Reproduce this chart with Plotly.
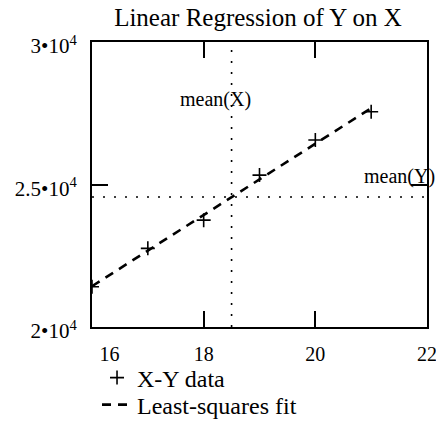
import numpy as np
import plotly.graph_objects as go

# Data
x_data = [16, 17, 18, 19, 20, 21]
y_data = [21410, 22760, 23750, 25330, 26560, 27550]
fit_y = [21430, 22680, 23930, 25180, 26430, 27680]

x_ticks = [16, 18, 20, 22]
x_tick_text = ["\u00a0\u00a0\u00a0\u00a0\u00a0\u00a0\u00a016", "18", "20", "22"]
y_ticks = [20000, 25000, 30000]
y_tick_text = ["2•10<sup>4</sup>", "2.5•10<sup>4</sup>", "3•10<sup>4</sup>"]

mean_x = float(np.mean(x_data))
mean_y = float(np.mean(y_data))

FONT = "Liberation Serif, Times New Roman, serif"

fig = go.Figure()
fig.add_trace(go.Scatter(
    x=x_data, y=y_data, mode="markers", name="X-Y data", legend="legend",
    marker=dict(symbol="cross-thin-open", size=10, color="black",
                line=dict(width=1.6, color="black")),
))
fig.add_trace(go.Scatter(
    x=x_data, y=fit_y, mode="lines", name="Least-squares fit", legend="legend2",
    line=dict(color="black", width=2.6, dash="9px,7px"),
))

fig.add_shape(type="line", xref="x", yref="paper", x0=mean_x, x1=mean_x, y0=0, y1=1,
              line=dict(color="black", width=1.6, dash="2px,9px"))
fig.add_shape(type="line", xref="paper", yref="y", x0=0, x1=1, y0=mean_y, y1=mean_y,
              line=dict(color="black", width=1.6, dash="2px,9px"))

fig.add_annotation(x=mean_x, xref="x", y=28000, yref="y", text="mean(X)",
                   showarrow=False, xshift=-16, font=dict(family=FONT, size=20, color="black"))
fig.add_annotation(x=22, xref="x", y=mean_y, yref="y", text="mean(Y)",
                   showarrow=False, xanchor="center", yshift=21, xshift=-28,
                   font=dict(family=FONT, size=20, color="black"))

leg_common = dict(xanchor="left", yanchor="middle", bgcolor="rgba(0,0,0,0)",
                  font=dict(family=FONT, size=24, color="black"), itemwidth=30)

fig.update_layout(
    width=436, height=424,
    margin=dict(l=92, r=9, t=42, b=97, autoexpand=False),
    paper_bgcolor="white", plot_bgcolor="white",
    font=dict(family=FONT, size=20, color="black"),
    title=dict(text="Linear Regression of Y on X", x=258 / 436, xanchor="center",
               y=1 - 17 / 424, yanchor="middle", font=dict(family=FONT, size=25, color="black")),
    showlegend=True,
    legend=dict(x=0.015, y=-(378 - 327) / 285, **leg_common),
    legend2=dict(x=0.015, y=-(405 - 327) / 285, **leg_common),
)
fig.update_xaxes(range=[16, 22], tickvals=x_ticks, ticktext=x_tick_text,
                 ticks="inside", ticklen=16, tickwidth=2,
                 tickcolor="black", showline=True, linecolor="black", linewidth=2,
                 mirror="ticks", showgrid=False, zeroline=False, automargin=False,
                 ticklabelstandoff=8, ticklabeloverflow="allow",
                 tickfont=dict(family=FONT, size=20, color="black"))
fig.update_yaxes(range=[20000, 30000], tickvals=y_ticks, ticktext=y_tick_text,
                 ticks="inside", ticklen=16, tickwidth=2, tickcolor="black",
                 showline=True, linecolor="black", linewidth=2, mirror="ticks",
                 showgrid=False, zeroline=False, automargin=False,
                 ticklabelstandoff=9, ticklabelshift=4, ticklabeloverflow="allow",
                 tickfont=dict(family=FONT, size=21, color="black"))

fig.write_html("out.html", config={"displayModeBar": False},
               post_script="document.body.style.margin='0';document.body.style.overflow='hidden';")
